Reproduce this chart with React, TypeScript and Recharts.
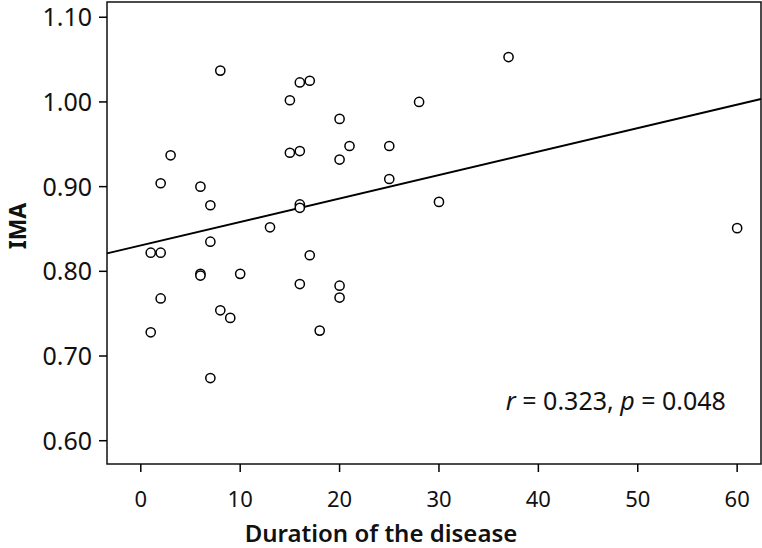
import { ScatterChart, Scatter, XAxis, YAxis, ReferenceLine, ReferenceArea, ReferenceDot } from 'recharts';

// duration of the disease (years) and IMA
const durations = [
  8, 16, 17, 15, 20, 21, 15, 16, 20, 3, 2, 6, 7, 16, 16, 13, 7,
  1, 2, 17, 6, 6, 10, 16, 20, 20, 2, 8, 9, 1, 18, 7,
  37, 28, 25, 25, 30, 60,
];
const imaValues = [
  1.037, 1.023, 1.025, 1.002, 0.98, 0.948, 0.94, 0.942, 0.932, 0.937, 0.904, 0.9, 0.878, 0.879, 0.875, 0.852, 0.835,
  0.822, 0.822, 0.819, 0.797, 0.795, 0.797, 0.785, 0.783, 0.769, 0.768, 0.754, 0.745, 0.728, 0.73, 0.674,
  1.053, 1.0, 0.948, 0.909, 0.882, 0.851,
];

const xTicks = [0, 10, 20, 30, 40, 50, 60];
const yTicks = [0.6, 0.7, 0.8, 0.9, 1.0, 1.1];
const xDomain = [-3.4, 62.4];
const yDomain = [0.5725, 1.118];

// linear fit line
const fitIntercept = 0.8306;
const fitSlope = 0.00277;

const FONT = '"Noto Sans", "Open Sans", sans-serif';

const points = durations.map((d, i) => ({ x: d, y: imaValues[i] }));
const fitSegment = xDomain.map((x) => ({ x, y: fitIntercept + fitSlope * x }));

const OpenCircle = (props: any) => (
  <circle cx={props.cx} cy={props.cy} r={4.6} fill="#fff" stroke="#000" strokeWidth={1.5} />
);

const StatsText = (props: any) => (
  <text
    x={props.cx}
    y={props.cy}
    textAnchor="middle"
    dominantBaseline="central"
    fontSize={25}
    fontFamily={FONT}
    fill="#111"
  >
    <tspan fontStyle="italic">r</tspan> = 0.323, <tspan fontStyle="italic">p</tspan> = 0.048
  </text>
);

export default function App() {
  return (
    <div style={{ position: 'absolute', left: 0, top: 0, background: '#fff' }}>
      <ScatterChart width={762} height={548} margin={{ top: 2, right: 1, left: 0, bottom: 0 }}>
        <XAxis
          type="number"
          dataKey="x"
          domain={xDomain}
          ticks={xTicks}
          allowDataOverflow
          axisLine={false}
          tickLine={{ stroke: '#000', strokeWidth: 1.5 }}
          tickSize={8}
          tickMargin={19}
          tick={{ fill: '#111', fontSize: 22, fontFamily: FONT }}
          height={84}
          label={{
            content: ({ viewBox }: any) => (
              <text
                x={viewBox.x + viewBox.width / 2 - 53}
                y={viewBox.y + viewBox.height - 6}
                textAnchor="middle"
                fontSize={24}
                fontWeight={600}
                fontFamily={FONT}
                fill="#111"
              >
                Duration of the disease
              </text>
            ),
          }}
        />
        <YAxis
          type="number"
          dataKey="y"
          domain={yDomain}
          ticks={yTicks}
          allowDataOverflow
          axisLine={false}
          tickLine={{ stroke: '#000', strokeWidth: 1.5 }}
          tickSize={8}
          tickMargin={7}
          tickFormatter={(v) => v.toFixed(2)}
          tick={{ fill: '#111', fontSize: 25, fontFamily: FONT }}
          width={107}
          label={{
            content: () => (
              <text
                x={17}
                y={226}
                transform="rotate(-90, 17, 226)"
                textAnchor="middle"
                dominantBaseline="central"
                fontSize={23}
                fontWeight={700}
                fontFamily={FONT}
                fill="#111"
              >
                IMA
              </text>
            ),
          }}
        />
        <ReferenceArea
          x1={xDomain[0]}
          x2={xDomain[1]}
          y1={yDomain[0]}
          y2={yDomain[1]}
          fill="none"
          stroke="#111"
          strokeWidth={1.5}
          ifOverflow="visible"
        />
        <ReferenceLine
          segment={fitSegment}
          stroke="#000"
          strokeWidth={2}
          ifOverflow="visible"
        />
        <Scatter data={points} shape={OpenCircle} isAnimationActive={false} />
        <ReferenceDot x={47.8} y={0.6482} r={0} shape={StatsText} ifOverflow="visible" />
      </ScatterChart>
    </div>
  );
}
